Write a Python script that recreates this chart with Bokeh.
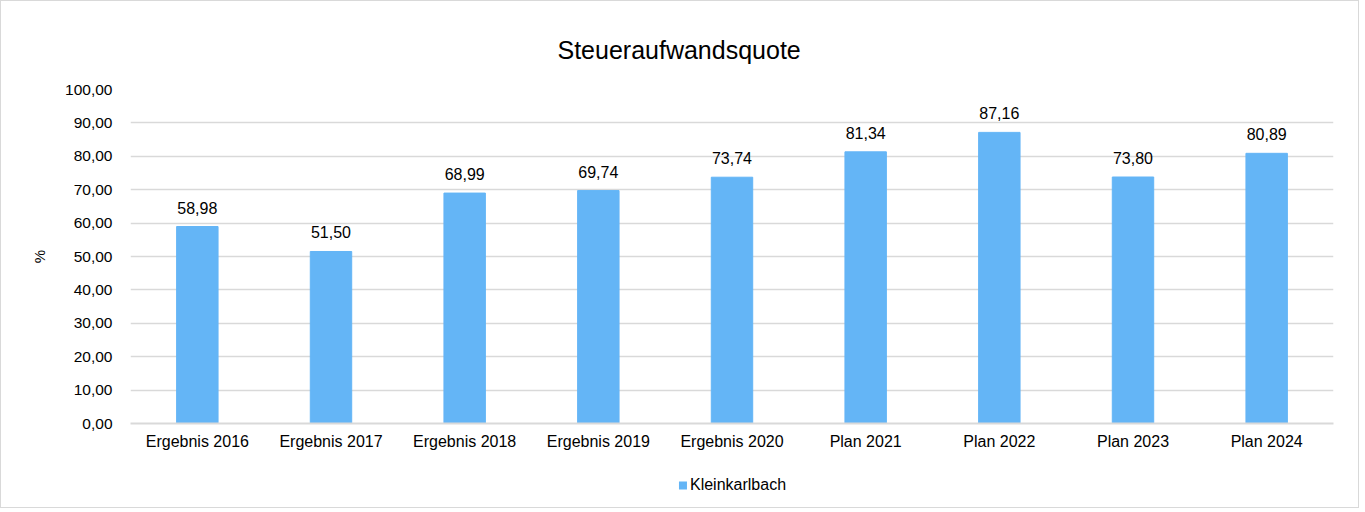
from bokeh.plotting import figure
from bokeh.layouts import column
from bokeh.models import (ColumnDataSource, FixedTicker, CustomJSTickFormatter, Legend,
                          LegendItem, LabelSet, Range1d)
from bokeh.core.properties import value
from bokeh.embed import file_html
from bokeh.resources import INLINE

categories = ["Ergebnis 2016", "Ergebnis 2017", "Ergebnis 2018", "Ergebnis 2019",
              "Ergebnis 2020", "Plan 2021", "Plan 2022", "Plan 2023", "Plan 2024"]
values = [58.98, 51.50, 68.99, 69.74, 73.74, 81.34, 87.16, 73.80, 80.89]
labels = [f"{v:.2f}".replace(".", ",") for v in values]
y_ticks = [0, 10, 20, 30, 40, 50, 60, 70, 80, 90, 100]
series_name = "Kleinkarlbach"

FONT = "Liberation Sans"
BAR = "#64B5F6"

src = ColumnDataSource(dict(cat=categories, val=values, lab=labels))

p = figure(x_range=categories, y_range=Range1d(0, 100), width=1357, height=462,
           output_backend="svg", toolbar_location=None,
           min_border_left=129, min_border_right=25, min_border_top=88, min_border_bottom=40)
p.outline_line_color = None

p.title.text = "Steueraufwandsquote"
p.title.align = "left"
p.title.offset = 427
p.title.text_font = FONT
p.title.text_font_size = "25px"
p.title.text_font_style = "normal"
p.title.text_color = "#000000"
p.title.standoff = 52

r = p.vbar(x="cat", top="val", width=0.31, source=src, color=BAR)

p.add_layout(LabelSet(x="cat", y="val", text="lab", source=src, text_align="center",
                      text_baseline="bottom", y_offset=13, text_font=value(FONT),
                      text_font_size="16px", text_color="#000000"))

p.yaxis.ticker = FixedTicker(ticks=y_ticks)
p.yaxis.formatter = CustomJSTickFormatter(code="return tick.toFixed(2).replace('.', ',');")
p.yaxis.axis_line_color = None
p.yaxis.major_tick_line_color = None
p.yaxis.minor_tick_line_color = None
p.yaxis.major_label_text_font = FONT
p.yaxis.major_label_text_font_size = "15.5px"
p.yaxis.major_label_text_color = "#000000"
p.yaxis.major_label_standoff = 12
p.yaxis.axis_label = "%"
p.yaxis.axis_label_text_font = FONT
p.yaxis.axis_label_text_font_size = "15px"
p.yaxis.axis_label_text_font_style = "normal"
p.yaxis.axis_label_text_color = "#000000"
p.yaxis.axis_label_standoff = 14

p.xaxis.axis_line_color = "#d9d9d9"
p.xaxis.axis_line_width = 2
p.xaxis.major_tick_line_color = None
p.xaxis.minor_tick_line_color = None
p.xaxis.major_label_text_font = FONT
p.xaxis.major_label_text_font_size = "16px"
p.xaxis.major_label_text_color = "#000000"
p.xaxis.major_label_standoff = 3

p.xgrid.grid_line_color = None
p.ygrid.grid_line_color = "#d9d9d9"
p.ygrid.grid_line_width = 1.5

# legend strip below the chart
lf = figure(width=1357, height=44, x_range=Range1d(0, 1), y_range=Range1d(0, 1),
            output_backend="svg", toolbar_location=None,
            min_border_left=0, min_border_right=0, min_border_top=0, min_border_bottom=0)
lf.axis.visible = False
lf.grid.visible = False
lf.outline_line_color = None
lr = lf.vbar(x=[0.5], top=[0], bottom=[0], width=0.01, fill_color=BAR, line_color=None)
legend = Legend(items=[LegendItem(label=series_name, renderers=[lr])], orientation="horizontal",
                location="center", border_line_color=None, background_fill_alpha=0,
                label_text_font=FONT, label_text_font_size="16px", label_text_color="#000000",
                glyph_width=10, glyph_height=10, label_standoff=3, padding=0, margin=0)
lf.add_layout(legend)

layout = column(p, lf, spacing=0)
layout.styles = {"border": "1px solid #d9d9d9"}
open("out.html", "w").write(file_html(layout, INLINE))
